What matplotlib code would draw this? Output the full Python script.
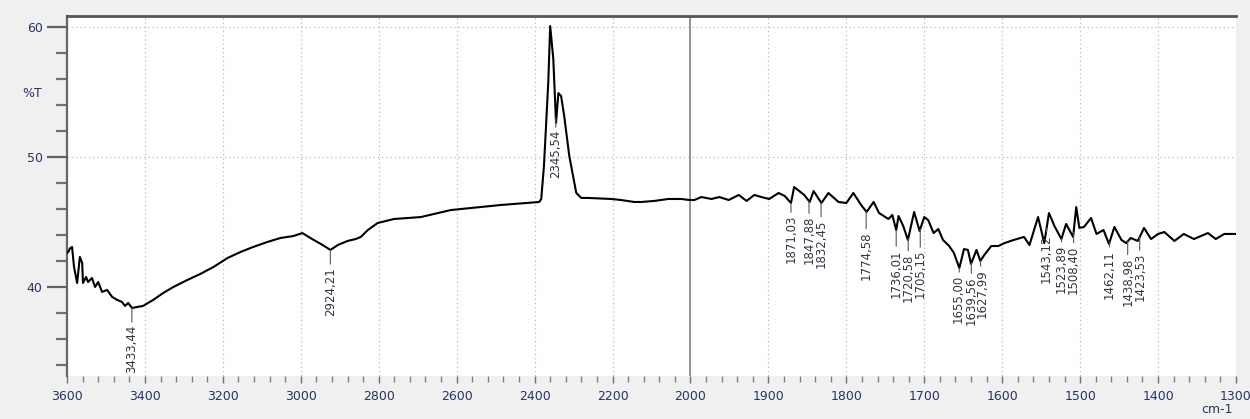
import numpy as np
import matplotlib
matplotlib.use('Agg')
import matplotlib.pyplot as plt

# ---------------- data ----------------
wavenumber = [3600, 3597, 3592, 3587, 3582, 3574, 3567, 3561, 3559, 3551, 3546, 3536,
              3528, 3520, 3510, 3497, 3484, 3471, 3459, 3451, 3443, 3433, 3420, 3405,
              3379, 3353, 3327, 3291, 3258, 3224, 3188, 3155, 3122, 3086, 3052, 3019,
              2996, 2988, 2967, 2944, 2924, 2905, 2880, 2859, 2846, 2828, 2803, 2761,
              2692, 2615, 2486, 2388, 2383, 2376, 2365, 2360, 2352, 2345, 2339, 2332,
              2324, 2311, 2293, 2280, 2262, 2203, 2178, 2144, 2126, 2093, 2057, 2023,
              2003, 1995, 1986, 1973, 1963, 1951, 1938, 1928, 1918, 1909, 1899, 1887,
              1879, 1871, 1867, 1854, 1847, 1842, 1832, 1823, 1810, 1800, 1791, 1781,
              1774, 1765, 1758, 1746, 1741, 1736, 1733, 1727, 1721, 1713, 1706, 1700,
              1695, 1688, 1682, 1676, 1668, 1662, 1655, 1649, 1644, 1640, 1633, 1628,
              1623, 1614, 1605, 1597, 1585, 1572, 1565, 1554, 1546, 1540, 1533, 1524,
              1518, 1509, 1505, 1501, 1495, 1486, 1479, 1470, 1463, 1456, 1447, 1441,
              1435, 1426, 1418, 1409, 1400, 1392, 1379, 1367, 1354, 1336, 1326, 1315,
              1303, 1300]
transmittance = [42.62, 42.70, 42.98, 43.08, 41.54, 40.31, 42.31, 41.85, 40.31, 40.77, 40.38, 40.69,
                 40.00, 40.38, 39.62, 39.77, 39.23, 39.00, 38.85, 38.54, 38.77, 38.38, 38.46, 38.54,
                 39.00, 39.54, 40.00, 40.54, 41.00, 41.54, 42.23, 42.69, 43.08, 43.46, 43.77, 43.92,
                 44.15, 44.00, 43.62, 43.23, 42.85, 43.23, 43.54, 43.69, 43.85, 44.38, 44.92, 45.23,
                 45.38, 45.92, 46.31, 46.54, 46.77, 49.31, 55.69, 60.08, 57.54, 52.62, 54.92, 54.69,
                 53.15, 50.08, 47.23, 46.85, 46.85, 46.77, 46.69, 46.54, 46.54, 46.62, 46.77, 46.77,
                 46.69, 46.69, 46.92, 46.77, 46.92, 46.69, 47.08, 46.62, 47.08, 46.92, 46.77, 47.23,
                 47.00, 46.46, 47.69, 47.08, 46.54, 47.38, 46.46, 47.23, 46.54, 46.46, 47.23, 46.31,
                 45.77, 46.54, 45.69, 45.23, 45.54, 44.38, 45.46, 44.69, 43.62, 45.77, 44.31, 45.38,
                 45.15, 44.15, 44.46, 43.62, 43.15, 42.62, 41.46, 42.92, 42.85, 41.77, 42.85, 42.00,
                 42.46, 43.15, 43.15, 43.38, 43.62, 43.85, 43.23, 45.38, 43.38, 45.69, 44.69, 43.69,
                 44.85, 43.85, 46.15, 44.54, 44.62, 45.31, 44.08, 44.38, 43.31, 44.62, 43.62, 43.38,
                 43.77, 43.54, 44.54, 43.69, 44.08, 44.23, 43.54, 44.08, 43.69, 44.15, 43.69, 44.08,
                 44.08, 44.08]

peak_positions = [3433.44, 2924.21, 2345.54, 1871.03, 1847.88, 1832.45, 1774.58, 1736.01,
                  1720.58, 1705.15, 1655.00, 1639.56, 1627.99, 1543.12, 1523.89, 1508.40,
                  1462.11, 1438.98, 1423.53]
peak_labels = ["3433,44", "2924,21", "2345,54", "1871,03", "1847,88", "1832,45", "1774,58",
               "1736,01", "1720,58", "1705,15", "1655,00", "1639,56", "1627,99", "1543,12",
               "1523,89", "1508,40", "1462,11", "1438,98", "1423,53"]
# gap (pixels) between curve and label top, and small horizontal nudges
label_gaps = [15, 15, 10, 10, 13, 15, 18, 17, 13, 19, 5, 11, 6, 4, 4, 11, 6, 14, 14]
label_dx = [0, 0, 0, 0, 0, 0, 0, 0, 0, 0, -1, 0, 2, 0, 0, 0, 0, 0, 0]

x_major = [3600, 3400, 3200, 3000, 2800, 2600, 2400, 2200, 2000,
           1900, 1800, 1700, 1600, 1500, 1400, 1300]
y_major = [40, 50, 60]

# ---------------- figure ----------------
W, H = 1250, 419
fig = plt.figure(figsize=(W / 100, H / 100), dpi=100, facecolor='#f0f0f0')
L, R, T, B = 67, 1236, 16, 376
ax = fig.add_axes([L / W, 1 - B / H, (R - L) / W, (B - T) / H])
ax.set_facecolor('white')


def fwd(x):
    x = np.asarray(x, dtype=float)
    return np.where(x >= 2000, x, 2 * x - 2000)


def inv(t):
    t = np.asarray(t, dtype=float)
    return np.where(t >= 2000, t, (t + 2000) / 2)


ax.set_xscale('function', functions=(fwd, inv))
ax.set_xlim(3600, 1300)
ax.set_ylim(33.15, 60.85)

grid_c = '#c4c4c4'
for v in x_major[1:-1]:
    if v == 2000:
        ax.axvline(v, color='#808080', lw=1.2, zorder=1)
    else:
        ax.axvline(v, color=grid_c, lw=0.9, ls=(0, (1.2, 2.2)), zorder=1)
for v in [50, 60]:
    ax.axhline(v, color=grid_c, lw=0.9, ls=(0, (1.2, 2.2)), zorder=1)

ax.plot(wavenumber, transmittance, color='black', lw=1.5, zorder=3)

wn_arr = np.array(wavenumber[::-1], dtype=float)
tr_arr = np.array(transmittance[::-1], dtype=float)
for pos, lab, gap, dx in zip(peak_positions, peak_labels, label_gaps, label_dx):
    yv = np.interp(pos, wn_arr, tr_arr)
    ax.annotate(lab, xy=(pos, yv), xytext=(dx, -gap - 2), textcoords='offset pixels',
                rotation=90, ha='center', va='top', fontsize=8.5, color='#33334a',
                annotation_clip=False, zorder=4,
                arrowprops=dict(arrowstyle='-', color='#555555', lw=0.8,
                                shrinkA=0, shrinkB=0))

ax.set_xticks(x_major)
ax.set_xticklabels([str(v) for v in x_major])
minor = list(np.arange(3600, 2000, -40)) + list(np.arange(2000, 1300, -20))
ax.set_xticks(minor, minor=True)
ax.set_yticks(y_major)
ax.set_yticklabels([str(v) for v in y_major])
ax.set_yticks(np.arange(34, 61, 2), minor=True)

lab_c = '#27355f'
ax.tick_params(axis='x', which='major', direction='out', length=5, width=1,
               color='#707070', labelsize=9, labelcolor=lab_c, pad=5)
ax.tick_params(axis='x', which='minor', direction='out', length=4, width=1,
               color='#808080')
ax.tick_params(axis='y', which='major', direction='out', length=14.5, width=1.6,
               color='#606060', labelsize=9, labelcolor=lab_c, pad=3)
ax.tick_params(axis='y', which='minor', direction='out', length=8, width=1.6,
               color='#707070')

for s in ['bottom', 'right']:
    ax.spines[s].set_visible(False)
ax.spines['top'].set_color('#555555')
ax.spines['top'].set_linewidth(2)
ax.spines['left'].set_color('#666666')
ax.spines['left'].set_linewidth(1.6)

fig.text(32 / W, 1 - 93 / H, '%T', ha='center', va='center', fontsize=9, color=lab_c)
fig.text(1217 / W, 1 - 409 / H, 'cm-1', ha='center', va='center', fontsize=9, color=lab_c)

fig.savefig('out.png', dpi=100, facecolor=fig.get_facecolor())
